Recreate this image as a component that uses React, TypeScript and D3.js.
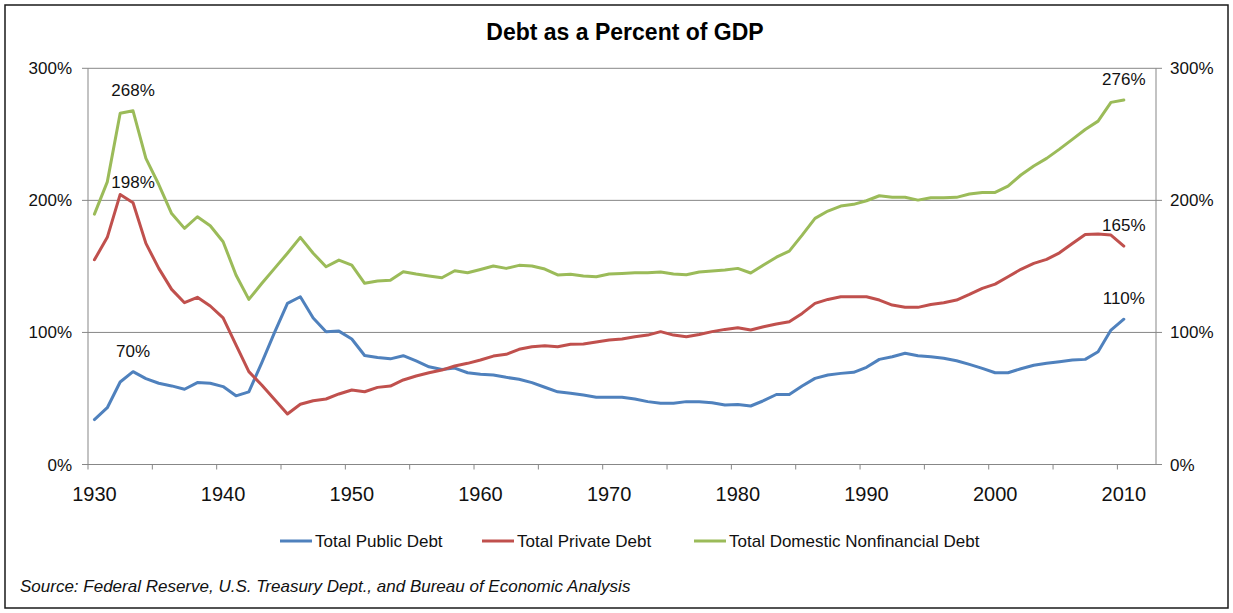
import React from "react";
import * as d3 from "d3";

const years = [
  1930, 1931, 1932, 1933, 1934, 1935, 1936, 1937, 1938, 1939,
  1940, 1941, 1942, 1943, 1944, 1945, 1946, 1947, 1948, 1949,
  1950, 1951, 1952, 1953, 1954, 1955, 1956, 1957, 1958, 1959,
  1960, 1961, 1962, 1963, 1964, 1965, 1966, 1967, 1968, 1969,
  1970, 1971, 1972, 1973, 1974, 1975, 1976, 1977, 1978, 1979,
  1980, 1981, 1982, 1983, 1984, 1985, 1986, 1987, 1988, 1989,
  1990, 1991, 1992, 1993, 1994, 1995, 1996, 1997, 1998, 1999,
  2000, 2001, 2002, 2003, 2004, 2005, 2006, 2007, 2008, 2009,
  2010,
];

const publicDebt = [
  34, 43, 62.5, 70.3, 65, 61.5, 59.5, 57, 62, 61.5,
  59, 52, 55, 77, 100, 122, 127, 111, 100.5, 101,
  95, 82.5, 81, 80, 82.4, 78.4, 74, 72, 73, 69.5,
  68.3, 67.8, 66, 64.5, 62, 58.5, 55, 54, 52.6, 51,
  51, 51, 49.6, 47.6, 46.3, 46.3, 47.6, 47.6, 46.8, 45,
  45.5, 44.3, 48.3, 53, 53, 59.4, 65.2, 67.8, 69, 69.8,
  73.6, 79.6, 81.6, 84.2, 82.4, 81.6, 80.4, 78.6, 75.8, 72.8,
  69.5, 69.5, 72.5, 75.1, 76.6, 77.8, 79.1, 79.6, 85.4, 101.8,
  110,
];

const privateDebt = [
  155, 172, 204.5, 198.2, 167.4, 148.5, 132.6, 122.5, 126.6, 120,
  111, 90.5, 70.3, 60.2, 49.3, 38.2, 45.6, 48.3, 49.6, 53.4,
  56.4, 55.1, 58.4, 59.4, 64, 67, 69.5, 71.5, 74.6, 76.6,
  79.1, 82.1, 83.4, 87.2, 89.2, 90, 89.2, 91, 91.2, 92.7,
  94.2, 95, 96.8, 98, 100.6, 98, 96.8, 98.5, 100.6, 102.3,
  103.6, 101.8, 104.3, 106.4, 108.1, 114.4, 122, 125, 127, 127,
  127, 124.5, 120.7, 119, 119, 121.2, 122.5, 124.5, 128.8, 133.4,
  136.6, 142.2, 147.8, 152.3, 155.3, 160.3, 167.4, 174.2, 174.5, 173.7,
  165.4,
];

const domesticDebt = [
  189.6, 214, 265.9, 267.8, 231.8, 212, 190, 178.8, 187.6, 180.8,
  168.7, 143.5, 125, 137, 148.5, 160, 172, 160, 149.7, 154.8,
  151, 137.2, 139, 139.5, 146, 144.2, 142.7, 141.4, 146.7, 145.2,
  147.7, 150.3, 148.5, 150.8, 150.3, 148, 143.5, 144, 142.7, 142.2,
  144.2, 144.7, 145.2, 145.2, 145.7, 144.2, 143.7, 145.7, 146.5, 147.2,
  148.5, 145, 151, 157, 161.6, 173.7, 186.4, 191.9, 195.7, 197,
  199.7, 203.5, 202.3, 202.3, 200.2, 202, 202, 202.3, 204.8, 206,
  206, 210.8, 219.2, 226, 231.8, 238.8, 246.2, 253.7, 260, 274.2,
  276,
];

const seriesNames = ["Total Public Debt", "Total Private Debt", "Total Domestic Nonfinancial Debt"];
const seriesColors = ["#4F81BD", "#C0504D", "#9BBB59"];
const yTicks = [0, 100, 200, 300];
const xLabelYears = [1930, 1940, 1950, 1960, 1970, 1980, 1990, 2000, 2010];
const xTickYears = [1929.5, 1934.5, 1939.5, 1944.5, 1949.5, 1954.5, 1959.5, 1964.5, 1969.5, 1974.5, 1979.5, 1984.5, 1989.5, 1994.5, 1999.5, 2004.5, 2009.5];
const annotationYears = [1933, 2010];
const legendX = [280, 482, 694];

const title = "Debt as a Percent of GDP";
const source = "Source: Federal Reserve, U.S. Treasury Dept., and Bureau of Economic Analysis";

const W = 1233;
const H = 613;
const FONT = "Liberation Sans, Arial, sans-serif";

export default function App() {
  const x = d3.scaleLinear().domain([1929.5, 2012.5]).range([88, 1156]);
  const y = d3.scaleLinear().domain([0, 300]).range([464.5, 68.3]);
  const allSeries = [publicDebt, privateDebt, domesticDebt];
  const line = d3
    .line<number>()
    .x((_, i) => x(years[i]))
    .y((d) => y(d));
  const grid = "#878787";

  return (
    <svg
      width={W}
      height={H}
      style={{ position: "absolute", left: 0, top: 0, background: "#fff" }}
      fontFamily={FONT}
    >
      <rect x={0} y={0} width={W} height={H} fill="#fff" />
      <rect x={5} y={5} width={1223} height={603} fill="none" stroke="#1a1a1a" strokeWidth={1.5} />
      <text x={625} y={40} textAnchor="middle" fontSize={23} fontWeight="bold" fill="#000">
        {title}
      </text>

      {/* gridlines */}
      {yTicks.filter((t) => t > 0).map((t) => (
        <line key={"g" + t} x1={x(1929.5)} x2={x(2012.5)} y1={y(t)} y2={y(t)} stroke={grid} strokeWidth={1} />
      ))}
      {/* axes */}
      <line x1={x(1929.5)} x2={x(1929.5)} y1={y(0)} y2={y(300)} stroke={grid} strokeWidth={1} />
      <line x1={x(2012.5)} x2={x(2012.5)} y1={y(0)} y2={y(300)} stroke={grid} strokeWidth={1} />
      <line x1={x(1929.5)} x2={x(2012.5)} y1={y(0)} y2={y(0)} stroke={grid} strokeWidth={1} />
      {yTicks.map((t) => (
        <g key={"yt" + t}>
          <line x1={x(1929.5) - 6} x2={x(1929.5)} y1={y(t)} y2={y(t)} stroke={grid} />
          <line x1={x(2012.5)} x2={x(2012.5) + 6} y1={y(t)} y2={y(t)} stroke={grid} />
          <text x={72} y={y(t) + 6} textAnchor="end" fontSize={17} fill="#111">
            {t}%
          </text>
          <text x={1170} y={y(t) + 6} textAnchor="start" fontSize={17} fill="#111">
            {t}%
          </text>
        </g>
      ))}
      {xTickYears.map((t) => (
        <line key={"xt" + t} x1={x(t)} x2={x(t)} y1={y(0)} y2={y(0) + 5} stroke={grid} />
      ))}
      {xLabelYears.map((t) => (
        <text key={"xl" + t} x={x(t)} y={501} textAnchor="middle" fontSize={20} fill="#111">
          {t}
        </text>
      ))}

      {/* lines */}
      {allSeries.map((s, i) => (
        <path
          key={"s" + i}
          d={line(s) || ""}
          fill="none"
          stroke={seriesColors[i]}
          strokeWidth={3}
          strokeLinejoin="round"
          strokeLinecap="round"
        />
      ))}

      {/* annotations */}
      {allSeries.map((s, i) =>
        annotationYears.map((yr) => {
          const idx = years.indexOf(yr);
          return (
            <text
              key={"a" + i + yr}
              x={x(yr)}
              y={y(s[idx]) - 15}
              textAnchor="middle"
              fontSize={17}
              fill="#111"
            >
              {Math.round(s[idx])}%
            </text>
          );
        })
      )}

      {/* legend */}
      {seriesNames.map((n, i) => (
        <g key={"l" + i}>
          <line x1={legendX[i]} x2={legendX[i] + 32} y1={541} y2={541} stroke={seriesColors[i]} strokeWidth={3} />
          <text x={legendX[i] + 35} y={547} fontSize={17} fill="#111">
            {n}
          </text>
        </g>
      ))}

      <text x={20} y={592} fontSize={17} fontStyle="italic" fill="#111">
        {source}
      </text>
    </svg>
  );
}
